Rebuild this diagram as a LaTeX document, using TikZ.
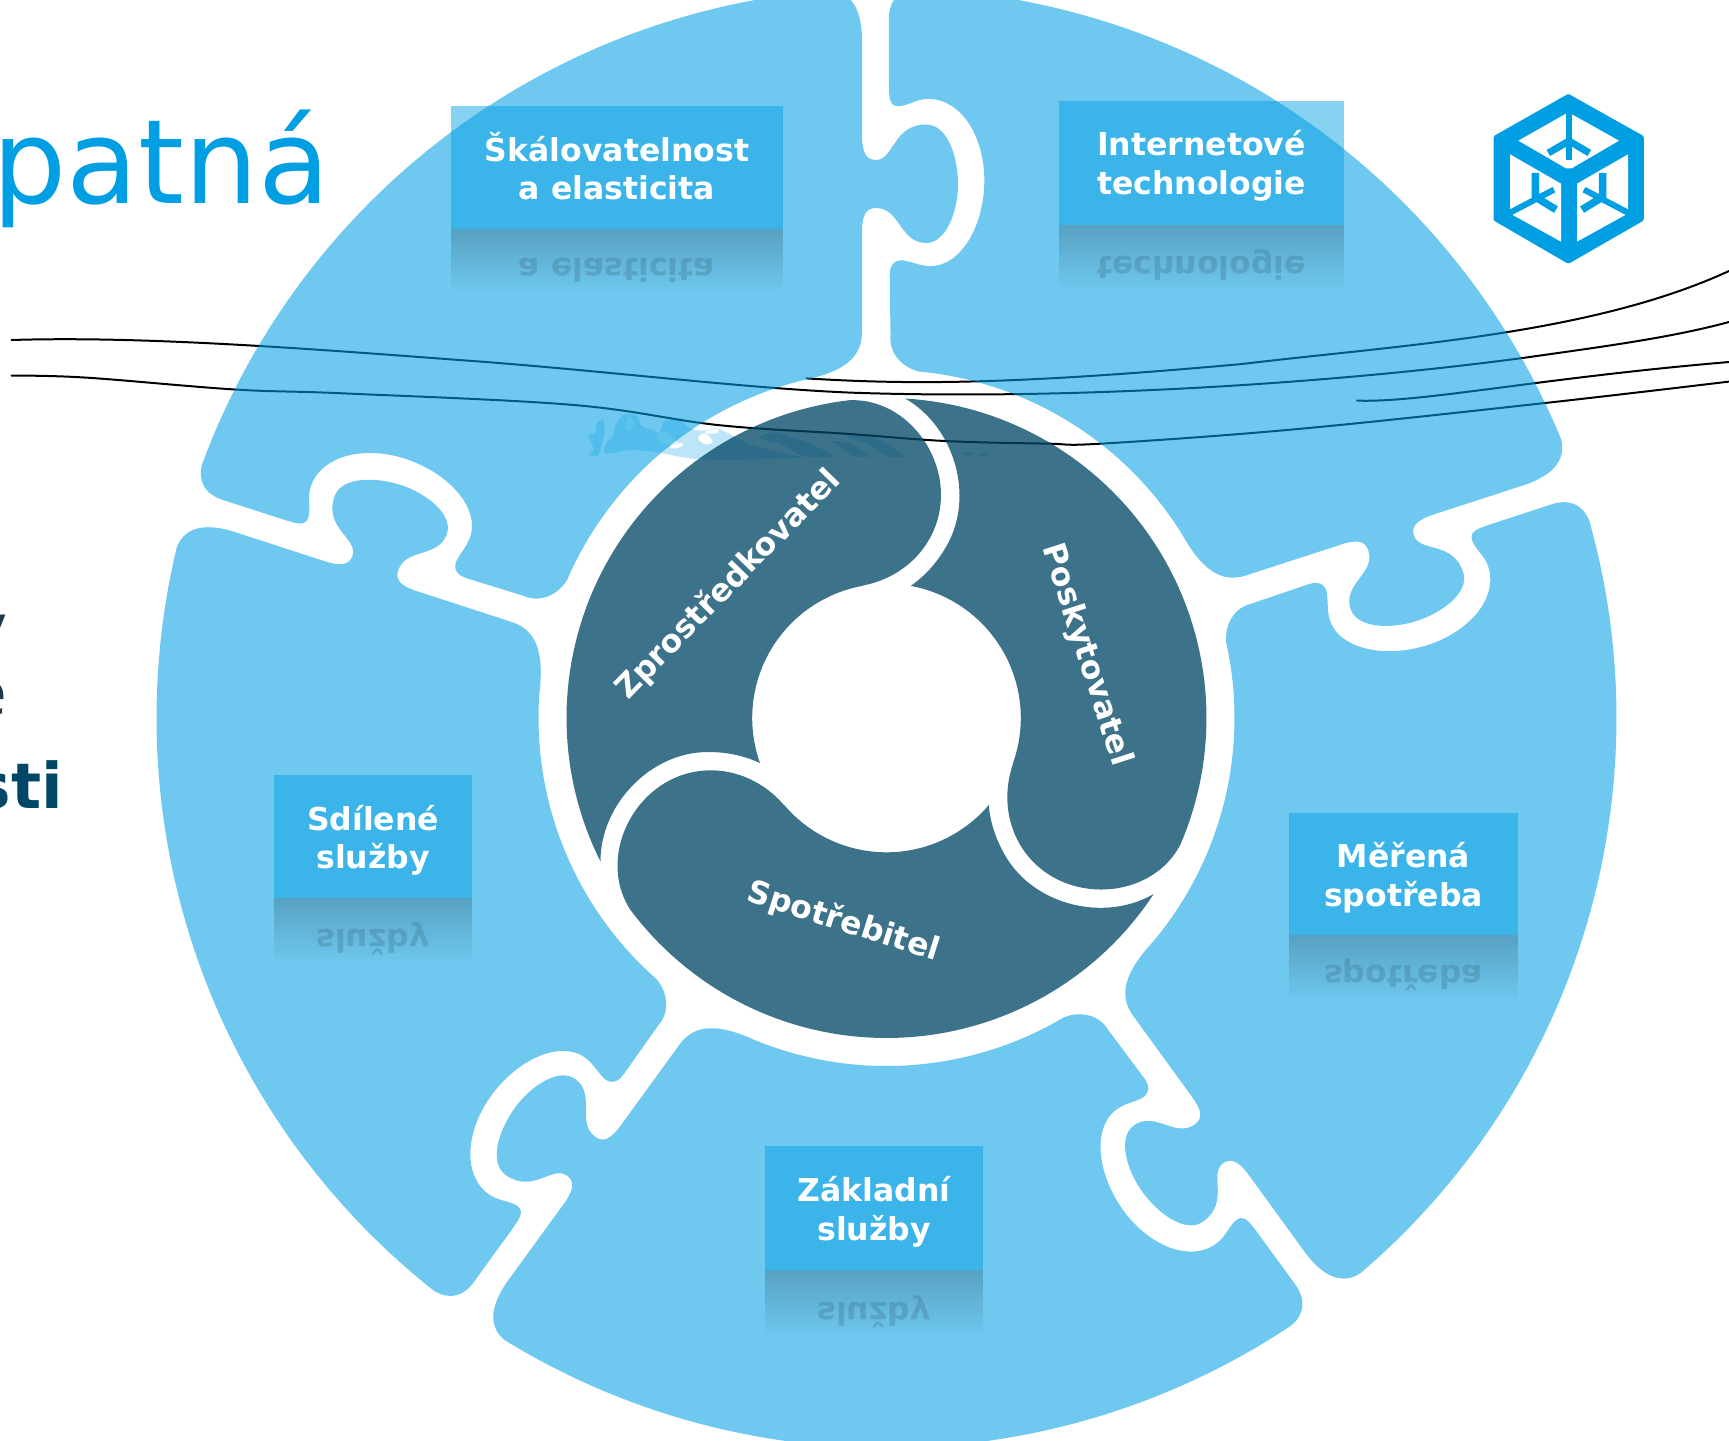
\documentclass[tikz,border=0pt]{standalone}
\usepackage{fontspec}
\usepackage{graphicx}
\setmainfont{DejaVu Sans}
\usetikzlibrary{fadings}
\definecolor{cloudblue}{HTML}{009FE3}
\definecolor{deepblue}{HTML}{004667}
\definecolor{reflectblue}{HTML}{3D728B}
\definecolor{scenery}{HTML}{BCE5F8}
\definecolor{inkdark}{HTML}{1F3A4D}
\tikzfading[name=rfade, top color=transparent!55, bottom color=transparent!100]
\tikzset{
  piecefill/.style={fill=cloudblue, fill opacity=.57},
  corefill/.style={fill=deepblue, fill opacity=.76},
  tagbox/.style={fill=cloudblue, fill opacity=.47, inner sep=0pt},
  tagtext/.style={text=white, inner sep=0pt, align=center, font=\fontsize{31.5pt}{38.5pt}\selectfont\bfseries},
  mirrortext/.style={text=reflectblue, text opacity=.33, inner sep=0pt, anchor=base, font=\fontsize{31.5pt}{38.5pt}\selectfont\bfseries},
  reflfill/.style={fill=reflectblue, path fading=rfade},
  corelabel/.style={text=white, inner sep=0pt, font=\fontsize{31.5pt}{38pt}\selectfont\bfseries},
  wave/.style={draw=black, line width=2pt, line cap=round},
  leftline/.style={inner sep=0pt, anchor=base east}
}
% name, cx, cy, w, h, text, mirrored line, mirror baseline, reflection height; \tagdy = text offset
\newcommand{\tagitem}[9]{%
  \node[tagbox, minimum width=#4pt, minimum height=#5pt] (#1) at (#2,#3) {};
  \node[tagtext] (#1t) at (#2,#3+\tagdy) {#6};
  \path[reflfill] (#1.south west) rectangle ++(#4,#9);
  \node[mirrortext] (#1m) at (#2,#8) {\scalebox{1}[-1]{#7}};
}
\begin{document}
\begin{tikzpicture}[x=1pt,y=-1pt]
\useasboundingbox (0,0) rectangle (1729,1440);
\fill[white] (0,0) rectangle (1729,1440);

% faint scenery behind the wheel
\begin{scope}[shift={(570,400)},x=.3333pt,y=-.3333pt]
  \fill[scenery] plot[smooth cycle,tension=.5] coordinates {(105,160) (112,125) (128,110) (135,80) (160,45) (200,47) (215,78) (252,92) (268,100) (285,62) (330,62) (358,85) (400,92) (440,85) (490,108) (545,135) (640,160) (695,172) (550,178) (400,178) (340,172) (250,155) (180,150)};
  \fill[scenery] plot[smooth cycle,tension=.5] coordinates {(55,165) (72,150) (60,122) (55,105) (75,100) (80,70) (100,60) (103,100) (95,130) (85,165)};
  \fill[scenery] plot[smooth cycle,tension=.5] coordinates {(570,112) (615,97) (660,110) (720,130) (790,170) (700,168) (640,135) (600,125)};
  \fill[scenery] plot[smooth cycle,tension=.5] coordinates {(785,125) (820,125) (860,142) (900,168) (850,168) (815,145)};
  \fill[scenery] plot[smooth cycle,tension=.5] coordinates {(830,110) (880,105) (930,120) (1000,168) (950,168) (900,135) (860,120)};
  \fill[scenery] plot[smooth cycle,tension=.7] coordinates {(1175,160) (1195,157) (1210,162) (1190,166)};
  \fill[scenery] plot[smooth cycle,tension=.7] coordinates {(1225,165) (1245,161) (1260,163) (1240,168)};
  \fill[white] plot[smooth cycle,tension=.7] coordinates {(300,140) (325,128) (340,135) (315,146)};
  \fill[white] plot[smooth cycle,tension=.7] coordinates {(385,115) (405,100) (428,125) (405,132)};
  \fill[white] plot[smooth cycle,tension=.7] coordinates {(405,95) (440,85) (445,97) (420,102)};
  \fill[white!55!scenery] plot[smooth cycle,tension=.7] coordinates {(165,75) (180,52) (192,70) (178,92)};
  \fill[white!55!scenery] plot[smooth cycle,tension=.7] coordinates {(262,115) (280,95) (325,130) (295,132)};
\end{scope}

% thin curves
\coordinate (w1a) at (11.5,340);
\coordinate (w2a) at (11.5,375.6);
\coordinate (w3a) at (806.5,378.4);
\coordinate (w4a) at (1357,400.6);
\draw[wave] (w1a) .. controls (140,336) and (300,348) .. (459,360) .. controls (600,370) and (740,388) .. (850,392.6) .. controls (1060,400) and (1320,385) .. (1522.6,358) .. controls (1600,347) and (1670,338) .. (1729,322);
\draw[wave] plot[smooth,tension=.6] coordinates {(11.5,375.6) (86,377.6) (235,389.5) (344.4,393.4) (574,405) (717.6,425) (850,434) (945,441) (1046,443.6) (1102,443.6) (1298,429) (1545,403) (1729,381.6)};
\draw[wave] (w3a) .. controls (900,384) and (1000,386) .. (1242,364) .. controls (1400,345) and (1590,335) .. (1729,271);
\draw[wave] (w4a) .. controls (1420,403) and (1540,378) .. (1729,362);

% five puzzle pieces
\foreach \k in {0,1,2,3,4}{
\begin{scope}[rotate around={-72*\k:(886.5,718)}]
\fill[piecefill]
  plot[domain=200.3:265.5,samples=60] ({886.5+730*cos(\x)},{718+730*sin(\x)})
  .. controls (848,-9) and (862,5) .. (862,41)
  -- (862,135)
  .. controls (862,152) and (866,160) .. (876,160)
  .. controls (894,160) and (893,124.5) .. (926,124.5)
  .. controls (948,124.5) and (958,158) .. (958,184)
  .. controls (958,212) and (946,243) .. (926,243)
  .. controls (900,243) and (900,208) .. (876,208)
  .. controls (866,208) and (862,215) .. (862,232)
  -- (862,332)
  .. controls (862,358) and (843,372) .. (804,380)
  -- plot[domain=256.2:203.4,samples=50] ({886.5+348*cos(\x)},{718+348*sin(\x)})
  .. controls (558,595) and (540,603) .. (524,596)
  -- (466,578)
  .. controls (456,575) and (452,567) .. (458,558)
  .. controls (464,548) and (472,540) .. (472,526)
  .. controls (472,490) and (420,453) .. (370,453)
  .. controls (330,453) and (309,475) .. (309,498)
  .. controls (309,508) and (312,524) .. (300,523.5)
  .. controls (296,523.5) and (292,522) .. (285,520)
  -- (223,500)
  .. controls (205,494) and (198,482) .. (201.9,464.7)
  -- cycle;
\end{scope}
}

% three core pieces
\foreach \k in {0,1,2}{
\begin{scope}[rotate around={-120*\k:(886.5,718)}]
\fill[corefill]
  plot[domain=153.4:263.3,samples=70] ({886.5+320*cos(\x)},{718+320*sin(\x)})
  .. controls (900,398) and (941,445) .. (941,495)
  .. controls (941,540) and (908,577) .. (862.6,585.6)
  -- plot[domain=259.7:160.4,samples=60] ({886.5+134.3*cos(\x)},{718+134.3*sin(\x)})
  .. controls (745,756) and (728,752) .. (708,752)
  .. controls (650,752) and (600.5,805) .. (600.5,861)
  -- cycle;
\end{scope}
}

% labels on the core
\node[corelabel, rotate=45.7] (broker) at (728.5,584.5) {Zprostředkovatel};
\node[corelabel, rotate=-72] (provider) at (1086,655) {Poskytovatel};
\node[corelabel, rotate=-17.5] (consumer) at (843.6,922) {Spotřebitel};

% tags
\def\tagdy{-1.5}
\tagitem{scale}{617}{167.5}{332}{123}{Škálovatelnost\\a elasticita}{a elasticita}{258}{62}
\def\tagdy{3}
\tagitem{web}{1201.5}{163}{285}{124}{Internetové\\technologie}{technologie}{256}{64}
\def\tagdy{3.5}
\tagitem{metered}{1403.5}{874}{229}{122}{Měřená\\spotřeba}{spotřeba}{965}{65}
\def\tagdy{4}
\tagitem{basic}{874}{1208}{218}{124}{Základní\\služby}{služby}{1302}{65}
\def\tagdy{4}
\tagitem{shared}{373}{836.5}{198}{123}{Sdílené\\služby}{služby}{929}{63}

% clipped title texts
\node[inner sep=0pt, anchor=base west, text=cloudblue, font=\fontsize{117pt}{117pt}\selectfont] (title) at (-7.5,203.6) {patná};
\node[leftline, text=inkdark, font=\fontsize{63pt}{63pt}\selectfont] (frag1) at (8,649) {y};
\node[leftline, text=inkdark, font=\fontsize{63pt}{63pt}\selectfont] (frag2) at (7,715) {e};
\node[leftline, text=deepblue, font=\fontsize{63pt}{63pt}\selectfont\bfseries] (frag3) at (63,808) {sti};

% cube logo
\begin{scope}[shift={(1480,85)},x=.3333pt,y=-.3333pt]
  \fill[cloudblue, draw=cloudblue, line width=5pt, line join=round] (265,35) -- (484,158) -- (484,402) -- (265,528) -- (48,402) -- (48,158) -- cycle;
  \fill[white] (115,167) -- (265,82) -- (417,167) -- (275,250) -- (258,250) -- cycle;
  \fill[white] (90,208) -- (243,296) -- (243,470) -- (98,390) -- (90,372) -- cycle;
  \fill[white] (444,208) -- (291,296) -- (291,470) -- (436,390) -- (444,372) -- cycle;
  \draw[cloudblue, line width=6pt] (267,82) -- (267,225);
  \draw[cloudblue, line width=7pt] (205,204) -- (267,168) -- (328,204);
  \draw[cloudblue, line width=6pt] (92,382) -- (222,314);
  \draw[cloudblue, line width=7.5pt] (166,264) -- (166,336) -- (228,374);
  \draw[cloudblue, line width=6pt] (442,382) -- (312,314);
  \draw[cloudblue, line width=7.5pt] (368,264) -- (368,336) -- (306,374);
\end{scope}
\end{tikzpicture}
\end{document}
